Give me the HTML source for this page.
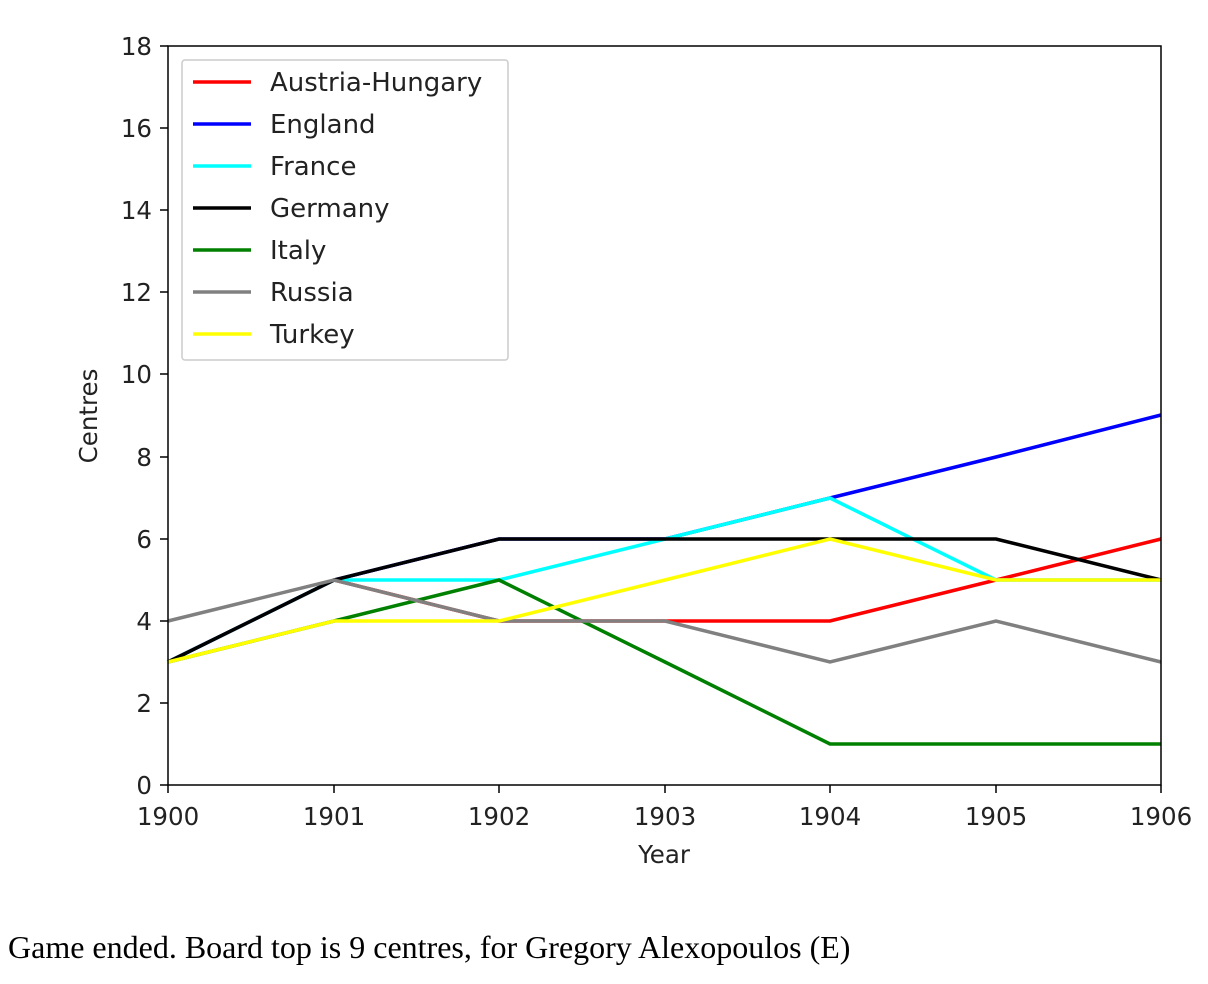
<!DOCTYPE html>
<html><head><style>body{margin:0;background:#fff;width:1208px;height:984px;overflow:hidden}</style></head><body>
<svg width="1208" height="984" xmlns="http://www.w3.org/2000/svg" style="position:absolute;left:0;top:0">
<g font-family="DejaVu Sans, sans-serif" font-size="24.5" fill="#222">
<g stroke="#000" stroke-width="1.5">
<line x1="168" y1="785" x2="160" y2="785"/><line x1="168" y1="703" x2="160" y2="703"/><line x1="168" y1="621" x2="160" y2="621"/><line x1="168" y1="539" x2="160" y2="539"/><line x1="168" y1="457" x2="160" y2="457"/><line x1="168" y1="374" x2="160" y2="374"/><line x1="168" y1="292" x2="160" y2="292"/><line x1="168" y1="210" x2="160" y2="210"/><line x1="168" y1="128" x2="160" y2="128"/><line x1="168" y1="46" x2="160" y2="46"/>
<line x1="168" y1="785" x2="168" y2="793"/><line x1="334" y1="785" x2="334" y2="793"/><line x1="499" y1="785" x2="499" y2="793"/><line x1="665" y1="785" x2="665" y2="793"/><line x1="830" y1="785" x2="830" y2="793"/><line x1="996" y1="785" x2="996" y2="793"/><line x1="1161" y1="785" x2="1161" y2="793"/>
</g>
<g text-anchor="end">
<text x="152" y="794">0</text><text x="152" y="712">2</text><text x="152" y="630">4</text><text x="152" y="548">6</text><text x="152" y="466">8</text><text x="152" y="383">10</text><text x="152" y="301">12</text><text x="152" y="219">14</text><text x="152" y="137">16</text><text x="152" y="55">18</text>
</g>
<g text-anchor="middle">
<text x="168" y="825">1900</text><text x="334" y="825">1901</text><text x="499" y="825">1902</text><text x="665" y="825">1903</text><text x="830" y="825">1904</text><text x="996" y="825">1905</text><text x="1161" y="825">1906</text>
<text x="664" y="863">Year</text>
<text transform="translate(97,416) rotate(-90)">Centres</text>
</g>
<g fill="none" stroke-width="3.5">
<polyline stroke="#ff0000" points="168,662 334,580 499,621 665,621 830,621 996,580 1161,539"/>
<polyline stroke="#0000ff" points="168,662 334,580 499,539 665,539 830,498 996,457 1161,415"/>
<polyline stroke="#00ffff" points="168,662 334,580 499,580 665,539 830,498 996,580 1161,580"/>
<polyline stroke="#000000" points="168,662 334,580 499,539 665,539 830,539 996,539 1161,580"/>
<polyline stroke="#008000" points="168,662 334,621 499,580 665,662 830,744 996,744 1161,744"/>
<polyline stroke="#808080" points="168,621 334,580 499,621 665,621 830,662 996,621 1161,662"/>
<polyline stroke="#ffff00" points="168,662 334,621 499,621 665,580 830,539 996,580 1161,580"/>
</g>
<rect x="168" y="46" width="993" height="739" fill="none" stroke="#000" stroke-width="1.5"/>
<rect x="182" y="60" width="326" height="300" fill="#fff" stroke="#ccc" stroke-width="1.5" rx="3"/>
<g stroke-width="3.5">
<line x1="193" y1="82" x2="251" y2="82" stroke="#ff0000"/>
<line x1="193" y1="124" x2="251" y2="124" stroke="#0000ff"/>
<line x1="193" y1="166" x2="251" y2="166" stroke="#00ffff"/>
<line x1="193" y1="208" x2="251" y2="208" stroke="#000"/>
<line x1="193" y1="250" x2="251" y2="250" stroke="#008000"/>
<line x1="193" y1="292" x2="251" y2="292" stroke="#808080"/>
<line x1="193" y1="334" x2="251" y2="334" stroke="#ffff00"/>
</g>
<g font-size="26">
<text x="270" y="91">Austria-Hungary</text>
<text x="270" y="133">England</text>
<text x="270" y="175">France</text>
<text x="270" y="217">Germany</text>
<text x="270" y="259">Italy</text>
<text x="270" y="301">Russia</text>
<text x="270" y="343">Turkey</text>
</g>
</g>
<text x="8" y="958" font-family="Liberation Serif, serif" font-size="32" fill="#000">Game ended. Board top is 9 centres, for Gregory Alexopoulos (E)</text>
</svg>
</body></html>
